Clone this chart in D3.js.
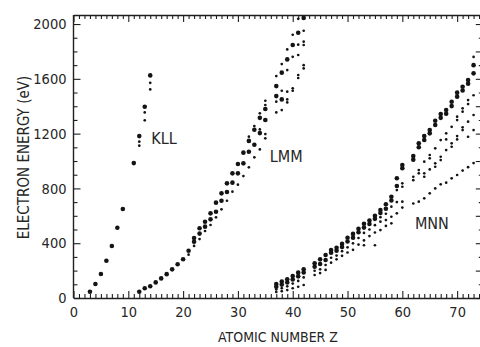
<!DOCTYPE html>
<html>
<head>
<meta charset="utf-8">
<script src="https://cdn.jsdelivr.net/npm/d3@7"></script>
<style>
  html, body { margin: 0; padding: 0; background: #fff; }
  svg { display: block; }
  text { font-family: "Liberation Sans Narrow", "DejaVu Sans Condensed", "Liberation Sans", sans-serif; fill: #262626; }
</style>
</head>
<body>
<svg id="chart" width="480" height="347"></svg>
<script>
// Auger electron energies (eV) versus atomic number Z.
// For each element: principal lines drawn as large dots, weaker lines as small dots.

const kllZ     = [3, 4, 5, 6, 7, 8, 9, 11, 12, 13, 14];
const kllBig   = [[46], [102], [175], [272], [380], [513], [650], [985], [1182], [1396], [1625]];
const kllSmall = [[], [], [], [], [], [], [], [], [1141, 1112], [1355, 1297], [1571, 1523]];

const lmmZ = [12, 13, 14, 15, 16, 17, 18, 19, 20, 21, 22, 23, 24, 25, 26, 27, 28, 29, 30, 31,
              32, 33, 34, 35, 37, 38, 39, 40, 41, 42];
const lmmBig = [
  [46], [71], [86], [114], [143], [174], [209], [246], [283], [345],
  [411, 438], [470, 509], [521, 557], [574, 618], [630, 696], [710, 764], [774, 837], [842, 910],
  [910, 978], [983, 1061],
  [1068, 1147], [1119, 1228], [1204, 1315], [1299, 1380],
  [1474, 1547], [1450, 1645], [1742], [1847], [1936], [2045]
];
const lmmSmall = [
  [], [], [], [], [], [], [], [], [], [316],
  [380], [430], [489], [533], [589], [647], [710], [776],
  [827], [890],
  [954, 1178], [1027, 1255], [1085, 1231, 1348], [1166, 1197, 1409, 1440],
  [1355, 1433, 1620], [1372, 1513, 1708], [1428, 1450, 1506, 1664, 1815],
  [1513, 1531, 1761, 1922], [1606, 1628, 1774, 1849, 2038], [1676, 1700, 1847, 1871, 1951]
];

const mnnZ = [37, 38, 39, 40, 41, 42, 44, 45, 46, 47, 48, 49, 50, 51, 52, 53, 54, 55, 56, 57,
              58, 59, 60, 62, 63, 64, 65, 66, 67, 68, 69, 70, 71, 72, 73];
const mnnBig = [
  [102, 82], [120, 98], [136, 113], [160, 135], [185, 158], [209, 186],
  [253, 228], [282, 248], [314, 277], [350, 331], [367, 345], [395, 372], [440, 412],
  [468, 440], [505, 480], [542, 514], [565, 540], [600, 578], [642, 620], [684, 652],
  [739, 712], [874, 818], [971, 947], [1036, 1010], [1129, 1100], [1182, 1153],
  [1226, 1202], [1294, 1263], [1343, 1315], [1372, 1345], [1433, 1401], [1499, 1470],
  [1542, 1515], [1591, 1565], [1700, 1640]
];
const mnnSmall = [
  [63, 44], [72, 50], [85, 58], [105, 71], [125, 82], [150, 95],
  [199, 168], [209, 182], [241, 205], [294, 258], [310, 282], [342, 308], [370, 332],
  [399, 352], [438, 390], [475, 420, 385], [500, 452], [532, 478, 385], [590, 557, 496],
  [615, 569, 526], [667, 593, 545], [788, 700, 618], [837, 812, 703, 660],
  [885, 860, 690], [934, 910, 703], [995, 910, 885, 728], [1044, 1020, 939, 764],
  [1093, 983, 958, 800], [1153, 1031, 1007, 830], [1202, 1158, 1080, 842],
  [1250, 1129, 1104, 874], [1324, 1299, 1182, 1158, 898], [1385, 1360, 1246, 1226, 930],
  [1445, 1416, 1287, 1177, 955], [1760, 1480, 1336, 1226, 985]
];

const xTickLabels = [0, 10, 20, 30, 40, 50, 60, 70];
const yTickLabels = [0, 400, 800, 1200, 1600, 2000];
const seriesNames = ["KLL", "LMM", "MNN"];

const svg = d3.select("#chart");

const x = d3.scaleLinear().domain([0, 74.5]).range([73.5, 481.8]);
const y = d3.scaleLinear().domain([0, 2066]).range([298, 15]);

const ink = "#1f1f1f";

function styleAxis(g) {
  g.selectAll(".domain").attr("stroke", ink).attr("stroke-width", 1.4);
  g.selectAll(".tick line").attr("stroke", ink).attr("stroke-width", 1.1);
  g.selectAll(".tick text").attr("fill", "#262626")
    .style("font-family", "'Liberation Sans Narrow','DejaVu Sans Condensed','Liberation Sans',sans-serif")
    .style("font-size", "14.5px");
}

const unitTicks = d3.range(0, 75, 1);
const hundredTicks = d3.range(0, 2001, 100);

// bottom axis: unit ticks pointing inward, longer ticks and labels every 10
svg.append("g").attr("transform", `translate(0,${y(0)})`)
  .call(d3.axisBottom(x).tickValues(unitTicks.filter(v => v % 10)).tickSize(-4).tickSizeOuter(0).tickFormat(""))
  .call(g => g.select(".domain").remove())
  .call(styleAxis);
svg.append("g").attr("transform", `translate(0,${y(0)})`)
  .call(d3.axisBottom(x).tickValues(xTickLabels).tickSize(-7).tickSizeOuter(0).tickPadding(9).tickFormat(d3.format("d")))
  .call(styleAxis);

// top axis mirrors the bottom one, without labels
svg.append("g").attr("transform", `translate(0,${y.range()[1]})`)
  .call(d3.axisTop(x).tickValues(unitTicks.filter(v => v % 10)).tickSize(-4).tickSizeOuter(0).tickFormat(""))
  .call(g => g.select(".domain").remove())
  .call(styleAxis);
svg.append("g").attr("transform", `translate(0,${y.range()[1]})`)
  .call(d3.axisTop(x).tickValues(xTickLabels).tickSize(-7).tickSizeOuter(0).tickFormat(""))
  .call(styleAxis);

// left axis: ticks every 100 eV, labels every 400 eV
svg.append("g").attr("transform", `translate(${x(0)},0)`)
  .call(d3.axisLeft(y).tickValues(hundredTicks.filter(v => v % 400)).tickSize(-4).tickSizeOuter(0).tickFormat(""))
  .call(g => g.select(".domain").remove())
  .call(styleAxis);
svg.append("g").attr("transform", `translate(${x(0)},0)`)
  .call(d3.axisLeft(y).tickValues(yTickLabels).tickSize(-7).tickSizeOuter(0).tickPadding(7).tickFormat(d3.format("d")))
  .call(g => g.select(".domain").attr("d", `M0,${y.range()[0]}V${y.range()[1]}`))
  .call(styleAxis);

// right axis ticks
svg.append("g").attr("transform", `translate(${x.range()[1]},0)`)
  .call(d3.axisRight(y).tickValues(hundredTicks).tickSize(-3).tickSizeOuter(0).tickFormat(""))
  .call(g => g.select(".domain").remove())
  .call(styleAxis)
  .selectAll(".tick line").attr("x2", d => d % 200 === 0 ? -6 : -3);

// flatten each series into dots
function points(zs, big, small) {
  const out = [];
  zs.forEach((z, i) => {
    big[i].forEach(e => out.push({ z, e, r: 2.3 }));
    small[i].forEach(e => out.push({ z, e, r: 1.35 }));
  });
  return out;
}
const allPoints = [
  ...points(kllZ, kllBig, kllSmall),
  ...points(lmmZ, lmmBig, lmmSmall),
  ...points(mnnZ, mnnBig, mnnSmall)
];

svg.append("g")
  .selectAll("circle")
  .data(allPoints)
  .join("circle")
  .attr("cx", d => x(d.z))
  .attr("cy", d => y(d.e))
  .attr("r", d => d.r)
  .attr("fill", "#141414");

// series labels
const labelPos = [
  { name: seriesNames[0], z: 14.2, e: 1124 },
  { name: seriesNames[1], z: 35.8, e: 995 },
  { name: seriesNames[2], z: 62.3, e: 505 }
];
svg.append("g").selectAll("text")
  .data(labelPos)
  .join("text")
  .attr("x", d => x(d.z))
  .attr("y", d => y(d.e))
  .style("font-size", "16px")
  .text(d => d.name);

// axis titles
svg.append("text")
  .attr("x", 278).attr("y", 342)
  .attr("text-anchor", "middle")
  .style("font-size", "14px")
  .text("ATOMIC NUMBER Z");

svg.append("text")
  .attr("transform", "translate(29,157.5) rotate(-90)")
  .attr("text-anchor", "middle")
  .style("font-size", "15px")
  .text("ELECTRON ENERGY (eV)");
</script>
</body>
</html>
